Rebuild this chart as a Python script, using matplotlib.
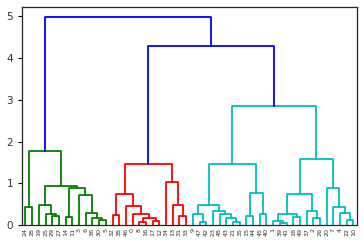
import matplotlib
matplotlib.use("Agg")
import matplotlib.pyplot as plt

# leaf labels in drawn (left to right) order
leaf_labels = [24, 28, 19, 25, 29, 27, 14, 11, 3, 6, 36, 30, 5,
               32, 38, 46, 0, 8, 16, 17, 12, 34, 13, 31, 33,
               9, 47, 42, 23, 48, 43, 21, 35, 15, 44, 45, 40, 1, 39,
               41, 18, 49, 37, 2, 26, 20, 7, 4, 22, 10]

# linkage-like merges: ids < 50 are leaves (by position), ids >= 50 are earlier merges
merge_left = [0, 4, 3, 2, 6, 11, 10, 9, 8, 54, 53, 50,
              13, 17, 19, 63, 16, 15, 62, 23, 22, 21, 68,
              26, 25, 31, 30, 29, 28, 74, 33, 35, 80, 79,
              38, 37, 40, 85, 43, 42, 87, 48, 47, 46, 45, 90, 83,
              72, 61]
merge_right = [1, 5, 51, 52, 7, 12, 55, 56, 57, 58, 59, 60,
               14, 18, 20, 64, 65, 66, 67, 24, 69, 70, 71,
               27, 73, 32, 75, 76, 77, 78, 34, 36, 81, 82,
               39, 84, 41, 86, 44, 88, 89, 49, 91, 92, 93, 94, 95,
               96, 97]
merge_height = [0.44, 0.22, 0.27, 0.48, 0.19, 0.12, 0.17, 0.30, 0.72, 0.90, 0.94, 1.78,
                0.24, 0.08, 0.10, 0.18, 0.27, 0.46, 0.745, 0.22, 0.48, 1.02, 1.46,
                0.08, 0.27, 0.08, 0.16, 0.27, 0.34, 0.49, 0.22, 0.27, 0.78, 1.47,
                0.06, 0.10, 0.19, 0.26, 0.16, 0.34, 0.75, 0.12, 0.30, 0.43, 0.90, 1.58, 2.84,
                4.28, 4.98]

cluster_colors = ['g', 'r', 'c']
above_color = 'b'

n = len(leaf_labels)


def node_x(i, xs):
    return 5 + 10 * i if i < n else xs[i - n]


def node_h(i):
    return 0.0 if i < n else merge_height[i - n]


def main():
    xs = []
    for l, r in zip(merge_left, merge_right):
        xs.append((node_x(l, xs) + node_x(r, xs)) / 2)

    threshold = 0.7 * max(merge_height)
    colors = {}
    palette = iter(cluster_colors)

    def paint(node, color):
        if node < n:
            return
        k = node - n
        if color is None and merge_height[k] <= threshold:
            color = next(palette)
        colors[k] = color if color else above_color
        paint(merge_left[k], color)
        paint(merge_right[k], color)

    paint(n + len(merge_height) - 1, None)

    fig = plt.figure(figsize=(3.63, 2.49), dpi=100)
    ax = fig.add_axes([0.061, 0.096, 0.922, 0.877])
    for k, (l, r) in enumerate(zip(merge_left, merge_right)):
        xl, xr = node_x(l, xs), node_x(r, xs)
        ax.plot([xl, xl, xr, xr], [node_h(l), merge_height[k], merge_height[k], node_h(r)],
                color=colors[k], lw=1.3)

    ax.set_xlim(0, 10 * n)
    ax.set_ylim(0, max(merge_height) * 1.05)
    ax.set_xticks([5 + 10 * i for i in range(n)])
    ax.set_xticklabels([str(v) for v in leaf_labels], rotation=90, fontsize=4.6, color='0.2')
    ax.tick_params(axis='x', length=0, pad=2)
    ax.set_yticks(range(6))
    ax.tick_params(axis='y', labelsize=7.5, labelcolor='0.2', length=3, width=0.8)
    for s in ax.spines.values():
        s.set_color('0.15')
        s.set_linewidth(0.9)
    fig.savefig('out.png', dpi=100)


if __name__ == "__main__":
    main()
